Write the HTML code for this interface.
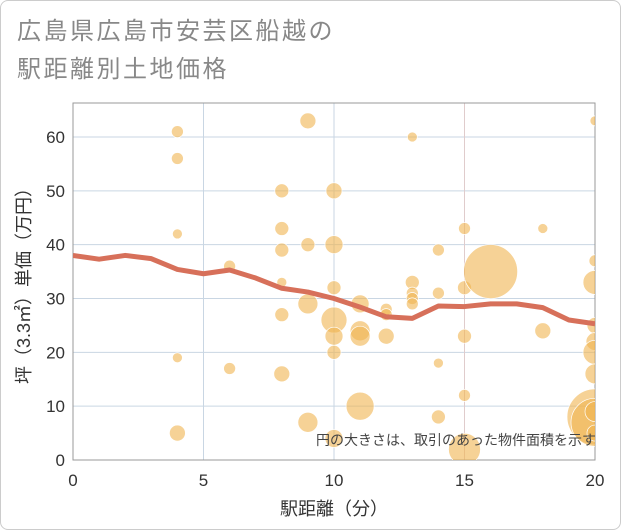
<!DOCTYPE html>
<html><head><meta charset="utf-8"><style>
body{margin:0;background:#fff;}
#card{position:absolute;left:0;top:0;width:619px;height:528px;border:1px solid #ccc;border-radius:8px;background:#fff;}
#title{position:absolute;left:16px;top:12px;font:24px "Liberation Sans","Noto Sans CJK JP",sans-serif;color:#888;line-height:38px;letter-spacing:2.5px;}
svg{position:absolute;left:0;top:0;}
text{font-family:"Liberation Sans","Noto Sans CJK JP",sans-serif;}
</style></head><body>
<div id="card">
<div id="title">広島県広島市安芸区船越の<br>駅距離別土地価格</div>
</div>
<svg id="chart" width="621" height="530"></svg>
<script>
const xTicks=[0,5,10,15,20];
const yTicks=[0,10,20,30,40,50,60];
const bx=[4,4,4,4,4,6,6,8,8,8,8,8,8,9,9,9,9,10,10,10,10,10,10,10,11,11,11,11,12,12,12,13,13,13,13,13,14,14,14,14,15,15,15,15,15,16,18,18,20,20,20,20,20,20,20,20,20,20,20];
const by=[61,56,42,19,5,36,17,50,43,39,33,27,16,63,40,29,7,50,40,32,26,23,20,4,29,24,23,10,28,27,23,60,33,31,30,29,39,31,18,8,43,32,23,12,2,35,43,24,63,37,33,25,22,20,16,8,7,9,5];
const br=[6,6,5,5,8,6,6,7,7,7,5,7,8,8,7,10,10,8,9,7,13,9,7,9,9,10,10,14,6,6,8,5,7,6,6,6,6,6,5,7,6,7,7,6,16,27,5,8,5,6,12,8,9,12,10,28,24,10,8];
const lx=[0,1,2,3,4,5,6,7,8,9,10,11,12,13,14,15,16,17,18,19,20];
const ly=[38,37.3,38,37.4,35.4,34.6,35.3,33.8,31.9,31.2,30,28.4,26.6,26.3,28.6,28.5,29,29,28.3,26,25.3];
const L=73,R=595,T=103,B=460;
const X=v=>L+(v-0)/20*(R-L);
const Y=v=>B-v/60*(B-137);
const s=document.getElementById('chart');
const NS='http://www.w3.org/2000/svg';
function mk(t,a){const e=document.createElementNS(NS,t);for(const k in a)e.setAttribute(k,a[k]);s.appendChild(e);return e;}
const clip=mk('clipPath',{id:'c'});clip.appendChild(document.createElementNS(NS,'rect'));
clip.firstChild.setAttribute('x',L);clip.firstChild.setAttribute('y',T);clip.firstChild.setAttribute('width',R-L);clip.firstChild.setAttribute('height',B-T);
yTicks.forEach(v=>{const g=mk('line',{x1:L,x2:R,y1:Y(v),y2:Y(v),stroke:'#c9d6e3','stroke-width':1});


const t=mk('text',{x:L-8,y:Y(v)+6,'text-anchor':'end','font-size':17,fill:'#333'});t.textContent=v;

});
xTicks.forEach(v=>{const g=mk('line',{x1:X(v),x2:X(v),y1:T,y2:B,stroke:v==15?'#e0cccc':'#c9d6e3','stroke-width':1});


const t=mk('text',{x:X(v),y:B+26,'text-anchor':'middle','font-size':17,fill:'#333'});t.textContent=v;

});
const fr=mk('rect',{x:L,y:T,width:R-L,height:B-T,fill:'none',stroke:'#999','stroke-width':1});


bx.forEach((v,i)=>{const c=mk('circle',{cx:X(v),cy:Y(by[i]),r:br[i],fill:'rgba(240,180,80,0.6)',stroke:'#fff','stroke-width':0.7,'clip-path':'url(#c)'});

});
const p=mk('polyline',{points:lx.map((v,i)=>X(v)+','+Y(ly[i])).join(' '),fill:'none',stroke:'#d7705a','stroke-width':5,'stroke-linejoin':'round','clip-path':'url(#c)'});


const n=mk('text',{x:596,y:445,'text-anchor':'end','font-size':14,fill:'#444'});n.textContent='円の大きさは、取引のあった物件面積を示す';


const xt=mk('text',{x:(L+R)/2,y:515,'text-anchor':'middle','font-size':18,fill:'#333'});xt.textContent='駅距離（分）';


const yt=mk('text',{x:0,y:0,'text-anchor':'middle','font-size':18,fill:'#333',transform:'translate(30,'+((T+B)/2)+') rotate(-90)'});yt.textContent='坪（3.3㎡）単価（万円）';


</script>
</body></html>
